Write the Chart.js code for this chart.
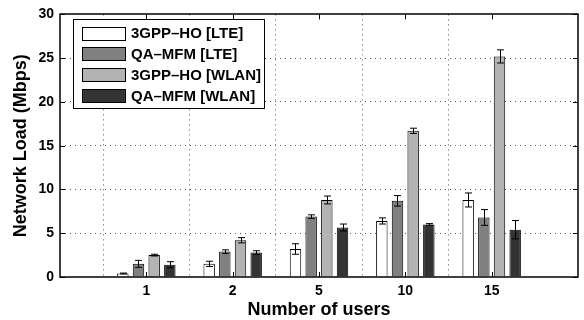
<!DOCTYPE html>
<html>
<head>
<meta charset="utf-8">
<script src="https://cdn.jsdelivr.net/npm/chart.js@4"></script>
<style>
  html, body { margin: 0; padding: 0; background: #fff; }
  #wrap { width: 584px; height: 320px; }
</style>
</head>
<body>
<div id="wrap"><canvas id="chart" width="584" height="320"></canvas></div>
<script>
// valores
const users = ['1', '2', '5', '10', '15'];
const seriesNames = ['3GPP–HO [LTE]', 'QA–MFM [LTE]', '3GPP–HO [WLAN]', 'QA–MFM [WLAN]'];
const hoLte = [0.4, 1.5, 3.2, 6.4, 8.8];
const mfmLte = [1.5, 2.9, 6.9, 8.7, 6.8];
const hoWlan = [2.5, 4.2, 8.8, 16.7, 25.2];
const mfmWlan = [1.4, 2.8, 5.65, 6.0, 5.4];
const hoLteErr = [0.05, 0.3, 0.6, 0.35, 0.8];
const mfmLteErr = [0.4, 0.2, 0.2, 0.6, 0.9];
const hoWlanErr = [0.1, 0.3, 0.45, 0.3, 0.75];
const mfmWlanErr = [0.35, 0.2, 0.4, 0.1, 1.05];
const yTicks = [0, 5, 10, 15, 20, 25, 30];

const cores = ['#ffffff', '#808080', '#b3b3b3', '#333333'];
const valores = [hoLte, mfmLte, hoWlan, mfmWlan];
const erros = [hoLteErr, mfmLteErr, hoWlanErr, mfmWlanErr];

// eixo x com uma posicao vazia de cada lado
const labels = [''].concat(users, ['']);
const pad = (arr) => [null].concat(arr, [null]);

const fonte = 'Liberation Sans, Arial, sans-serif';

// barras de erro
const errorBars = {
  id: 'errorBars',
  afterDatasetsDraw(chart) {
    const ctx = chart.ctx;
    const y = chart.scales.y;
    ctx.save();
    ctx.strokeStyle = '#000';
    ctx.lineWidth = 1;
    chart.data.datasets.forEach((ds, i) => {
      const meta = chart.getDatasetMeta(i);
      meta.data.forEach((el, j) => {
        const v = ds.data[j];
        if (v == null) return;
        const e = erros[i][j - 1];
        const x = Math.round(el.x) + 0.5;
        const y1 = y.getPixelForValue(v - e);
        const y2 = y.getPixelForValue(v + e);
        ctx.beginPath();
        ctx.moveTo(x, y1); ctx.lineTo(x, y2);
        ctx.moveTo(x - 3.5, y1); ctx.lineTo(x + 3.5, y1);
        ctx.moveTo(x - 3.5, y2); ctx.lineTo(x + 3.5, y2);
        ctx.stroke();
      });
    });
    ctx.restore();
  }
};

// moldura, tracos internos e legenda dentro do grafico
const moldura = {
  id: 'moldura',
  afterDraw(chart) {
    const ctx = chart.ctx;
    const a = chart.chartArea;
    const xs = chart.scales.x, ys = chart.scales.y;
    ctx.save();
    ctx.strokeStyle = '#000';
    ctx.lineWidth = 1;
    ctx.beginPath();
    yTicks.forEach((t) => {
      const py = Math.round(ys.getPixelForValue(t)) + 0.5;
      ctx.moveTo(a.left, py); ctx.lineTo(a.left + 5, py);
      ctx.moveTo(a.right, py); ctx.lineTo(a.right - 5, py);
    });
    users.forEach((u, i) => {
      const px = Math.round(xs.getPixelForValue(i + 1)) + 0.5;
      ctx.moveTo(px, a.top); ctx.lineTo(px, a.top + 5);
      ctx.moveTo(px, a.bottom); ctx.lineTo(px, a.bottom - 5);
    });
    ctx.stroke();
    ctx.lineWidth = 1.5;
    ctx.strokeRect(Math.round(a.left), Math.round(a.top), Math.round(a.right - a.left), Math.round(a.bottom - a.top));

    // legenda
    const lx = 73, ly = 19, lw = 191, lh = 89;
    ctx.lineWidth = 1;
    ctx.fillStyle = '#fff';
    ctx.fillRect(lx, ly, lw, lh);
    ctx.strokeRect(lx + 0.5, ly + 0.5, lw, lh);
    ctx.font = 'bold 15px ' + fonte;
    ctx.textBaseline = 'middle';
    seriesNames.forEach((n, i) => {
      const cy = 33 + i * 20.8;
      ctx.fillStyle = cores[i];
      ctx.fillRect(82, Math.round(cy - 6.5), 43, 13);
      ctx.strokeRect(82.5, Math.round(cy - 6.5) + 0.5, 43, 13);
      ctx.fillStyle = '#000';
      ctx.fillText(n, 131, cy + 1);
    });
    ctx.restore();
  }
};

window.onload = () => {
  const ctx = document.getElementById('chart').getContext('2d');
  new Chart(ctx, {
    type: 'bar',
    data: {
      labels,
      datasets: seriesNames.map((n, i) => ({
        label: n,
        data: pad(valores[i]),
        backgroundColor: cores[i],
        borderColor: '#000',
        borderWidth: 1,
        categoryPercentage: 0.726,
        barPercentage: 0.73,
      })),
    },
    options: {
      responsive: false,
      animation: false,
      layout: { padding: { top: 10, right: 6, left: 0, bottom: 0 } },
      plugins: { legend: { display: false }, tooltip: { enabled: false } },
      scales: {
        x: {
          offset: false,
          grid: {
            color: (c) => (c.index === 0 || c.index === labels.length - 1 ? 'rgba(0,0,0,0)' : '#555'),
            tickLength: 0,
          },
          border: { display: false, dash: [1, 4] },
          ticks: { color: '#000', font: { family: fonte, size: 14, weight: 'bold' }, padding: 6, maxRotation: 0, autoSkip: false },
          title: { display: true, text: 'Number of users', color: '#000', font: { family: fonte, size: 18, weight: 'bold' }, padding: { top: 0, bottom: -1 } },
          afterFit: (s) => { s.height = 43; },
        },
        y: {
          min: 0,
          max: 30,
          grid: {
            color: (c) => (c.tick.value === 0 || c.tick.value === 30 ? 'rgba(0,0,0,0)' : '#555'),
            tickLength: 0,
          },
          border: { display: false, dash: [1, 4] },
          ticks: { stepSize: 5, color: '#000', font: { family: fonte, size: 14, weight: 'bold' }, padding: 6 },
          title: { display: true, text: 'Network Load (Mbps)', color: '#000', font: { family: fonte, size: 18, weight: 'bold' }, padding: { top: 10, bottom: 0 } },
          afterFit: (s) => { s.width = 60; },
        },
      },
    },
    plugins: [errorBars, moldura],
  });
};
</script>
</body>
</html>
